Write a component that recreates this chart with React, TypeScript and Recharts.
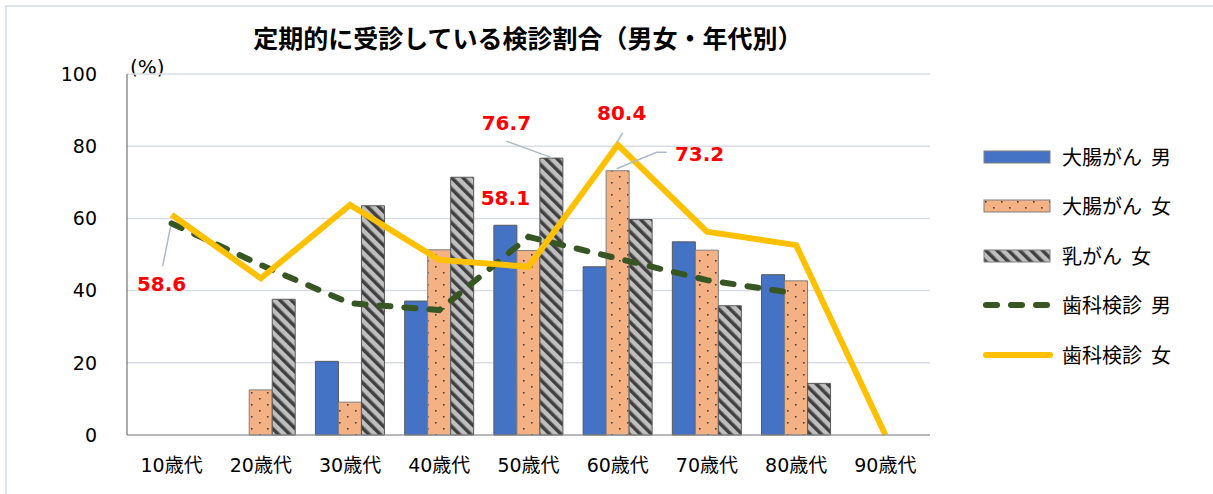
import { ComposedChart, Bar, Line, XAxis, YAxis, CartesianGrid, LabelList } from 'recharts';

const categories = ['10歳代', '20歳代', '30歳代', '40歳代', '50歳代', '60歳代', '70歳代', '80歳代', '90歳代'];
const colonMale = [null, null, 20.4, 37.1, 58.1, 46.6, 53.5, 44.4, null];
const colonFemale = [null, 12.5, 9.1, 51.3, 51.1, 73.2, 51.2, 42.7, null];
const breastFemale = [null, 37.6, 63.5, 71.4, 76.7, 59.7, 35.8, 14.3, null];
const dentalMale = [58.6, 47.1, 36.5, 34.6, 54.9, 48.9, 42.9, 39.2, null];
const dentalFemale = [61.0, 43.4, 63.7, 48.5, 46.6, 80.4, 56.3, 52.6, 0];
const yTicks = [0, 20, 40, 60, 80, 100];

const data = categories.map((cat, i) => ({
  cat,
  colonMale: colonMale[i],
  colonFemale: colonFemale[i],
  breastFemale: breastFemale[i],
  dentalMale: dentalMale[i],
  dentalFemale: dentalFemale[i],
}));

const NUM_FONT = "'DejaVu Sans', 'Noto Sans CJK JP', sans-serif";
const JP_FONT = "'Noto Sans CJK JP', sans-serif";

// which point of each series carries a callout, and where the text sits relative to it
type Callout = { at: string; dx: number; dy: number; leader?: [number, number][] };
const callouts: Record<string, Callout> = {
  dentalMale: { at: '10歳代', dx: -10, dy: 68, leader: [[-9, 43], [-1, 3]] },
  breastFemale: { at: '50歳代', dx: -45, dy: -28, leader: [[-45, -17], [-1, -1]] },
  colonMale: { at: '50歳代', dx: 0, dy: -20 },
  dentalFemale: { at: '60歳代', dx: 4, dy: -25, leader: [[5, -12], [-1, -2]] },
  colonFemale: { at: '60歳代', dx: 82, dy: -10, leader: [[-1, -2], [39, -18.5], [49, -18.5]] },
};

function calloutContent(key: string) {
  const c = callouts[key];
  return (props: any) => {
    if (props.value == null) return null;
    const vb = props.viewBox || {};
    const x0 = props.x ?? vb.x;
    const y0 = props.y ?? vb.y;
    const w = props.width ?? vb.width ?? 0;
    const ax = x0 + w / 2;
    const ay = y0;
    return (
      <g>
        {c.leader && (
          <polyline
            points={c.leader.map(([lx, ly]) => `${ax + lx},${ay + ly}`).join(' ')}
            fill="none"
            stroke="#adb9ca"
            strokeWidth={1.5}
          />
        )}
        <text x={ax + c.dx} y={ay + c.dy} textAnchor="middle" fill="#ff0000" fontSize={20} fontWeight="bold" fontFamily={NUM_FONT}>
          {props.value}
        </text>
      </g>
    );
  };
}

const pick = (key: string) => (d: any) => (d.cat === callouts[key].at ? d[key] : null);

const legendItems = [
  { name: '大腸がん 男', kind: 'bar', fill: '#4472c4' },
  { name: '大腸がん 女', kind: 'bar', fill: 'url(#dots)' },
  { name: '乳がん 女', kind: 'bar', fill: 'url(#stripes)' },
  { name: '歯科検診 男', kind: 'dash', fill: '#375623' },
  { name: '歯科検診 女', kind: 'line', fill: '#ffc000' },
];

function LegendSwatch({ kind, fill }: { kind: string; fill: string }) {
  return (
    <svg width={72} height={14} style={{ display: 'block' }}>
      {kind === 'bar' && <rect x={2} y={1} width={66} height={12} fill={fill} stroke="#7f7f7f" strokeWidth={1} />}
      {kind === 'dash' && (
        <line x1={4} y1={7} x2={68} y2={7} stroke={fill} strokeWidth={6} strokeDasharray="11 14" strokeLinecap="round" />
      )}
      {kind === 'line' && <line x1={4} y1={7} x2={68} y2={7} stroke={fill} strokeWidth={6} strokeLinecap="round" />}
    </svg>
  );
}

export default function App() {
  return (
    <div style={{ position: 'absolute', left: 0, top: 0, width: 1213, height: 494, background: '#fff', overflow: 'hidden', fontFamily: JP_FONT }}>
      <div style={{ position: 'absolute', left: 5, top: 5, right: -10, bottom: -10, borderTop: '2px solid #dde3ea', borderLeft: '2px solid #dde3ea' }} />
      <div style={{ position: 'absolute', left: 0, width: 1056, top: 25, textAlign: 'center', fontSize: 25, fontWeight: 'bold', lineHeight: 1, color: '#000' }}>
        定期的に受診している検診割合（男女・年代別）
      </div>
      <div style={{ position: 'absolute', left: 130, top: 57, fontSize: 20, fontFamily: NUM_FONT, lineHeight: 1, color: '#000' }}>(%)</div>

      <ComposedChart
        width={1213}
        height={494}
        data={data}
        margin={{ top: 74, right: 283, bottom: 19, left: 0 }}
        barSize={23}
        barGap={0}
        style={{ position: 'absolute', left: 0, top: 0 }}
      >
        <defs>
          <pattern id="dots" width={16} height={12} patternUnits="userSpaceOnUse">
            <rect width={16} height={12} fill="#f4b183" />
            <rect x={3} y={2} width={1.6} height={1.6} fill="#404040" />
            <rect x={11} y={8} width={1.6} height={1.6} fill="#404040" />
          </pattern>
          <pattern id="stripes" width={8} height={8} patternUnits="userSpaceOnUse" patternTransform="rotate(-45)">
            <rect width={8} height={8} fill="#bfbfbf" />
            <rect width={3.5} height={8} fill="#404040" />
          </pattern>
        </defs>
        <CartesianGrid vertical={false} stroke="#d9dde4" strokeWidth={1.5} />
        <XAxis
          dataKey="cat"
          height={40}
          tickSize={0}
          tickMargin={24}
          axisLine={{ stroke: '#8c8c8c' }}
          tick={{ fontSize: 19, fill: '#000', fontFamily: NUM_FONT }}
        />
        <YAxis
          width={127}
          domain={[0, 100]}
          ticks={yTicks}
          tickSize={0}
          tickMargin={30}
          axisLine={{ stroke: '#595959' }}
          tick={{ fontSize: 19, fill: '#000', fontFamily: NUM_FONT }}
        />
        <Bar dataKey="colonMale" name="大腸がん 男" fill="#4472c4" stroke="#595959" strokeWidth={1} isAnimationActive={false}>
          <LabelList dataKey={pick('colonMale')} content={calloutContent('colonMale')} />
        </Bar>
        <Bar dataKey="colonFemale" name="大腸がん 女" fill="url(#dots)" stroke="#7f7f7f" strokeWidth={1} isAnimationActive={false}>
          <LabelList dataKey={pick('colonFemale')} content={calloutContent('colonFemale')} />
        </Bar>
        <Bar dataKey="breastFemale" name="乳がん 女" fill="url(#stripes)" stroke="#595959" strokeWidth={1} isAnimationActive={false}>
          <LabelList dataKey={pick('breastFemale')} content={calloutContent('breastFemale')} />
        </Bar>
        <Line
          dataKey="dentalMale"
          name="歯科検診 男"
          stroke="#375623"
          strokeWidth={6}
          strokeDasharray="11 14"
          strokeLinecap="round"
          dot={false}
          activeDot={false}
          type="linear"
          isAnimationActive={false}
        >
          <LabelList dataKey={pick('dentalMale')} content={calloutContent('dentalMale')} />
        </Line>
        <Line
          dataKey="dentalFemale"
          name="歯科検診 女"
          stroke="#ffc000"
          strokeWidth={6}
          dot={false}
          activeDot={false}
          type="linear"
          isAnimationActive={false}
        >
          <LabelList dataKey={pick('dentalFemale')} content={calloutContent('dentalFemale')} />
        </Line>
      </ComposedChart>

      <div style={{ position: 'absolute', left: 982, top: 132 }}>
        {legendItems.map((item) => (
          <div key={item.name} style={{ display: 'flex', alignItems: 'center', height: 49.5 }}>
            <LegendSwatch kind={item.kind} fill={item.fill} />
            <span style={{ marginLeft: 8, fontSize: 20, lineHeight: 1, color: '#000', whiteSpace: 'pre' }}>{item.name.replace(' ', '  ')}</span>
          </div>
        ))}
      </div>
    </div>
  );
}
